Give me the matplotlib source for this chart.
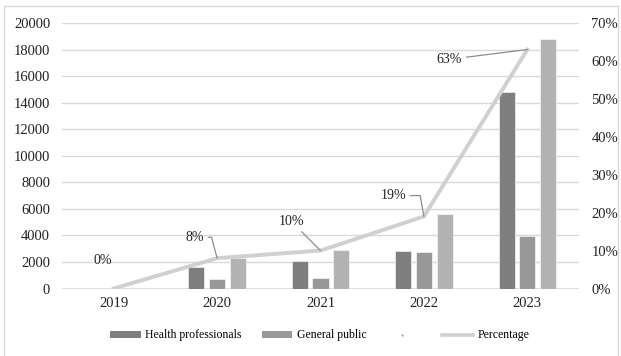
import numpy as np
import matplotlib.pyplot as plt
from matplotlib.patches import Patch, Rectangle
from matplotlib.lines import Line2D

plt.rcParams['font.family'] = ['Liberation Serif', 'DejaVu Serif']

years = ['2019', '2020', '2021', '2022', '2023']
health_prof = [0, 1600, 2080, 2830, 14780]
general_public = [0, 750, 770, 2730, 3960]
total = [0, 2260, 2880, 5620, 18760]
percentage = [0.0, 0.08, 0.10, 0.19, 0.63]
pct_labels = ['0%', '8%', '10%', '19%', '63%']

c_hp = '#7f7f7f'
c_gp = '#999999'
c_tot = '#b3b3b3'
c_line = '#d0d0d0'
c_grid = '#d9d9d9'

fig = plt.figure(figsize=(6.21, 3.56), dpi=100)
ax = fig.add_axes([62 / 621, 67.5 / 356, 517 / 621, 265.5 / 356])
ax2 = ax.twinx()

x = np.arange(len(years))
w = 0.155
step = 0.2
ax.bar(x - step, health_prof, w, color=c_hp, edgecolor='white', linewidth=0.4, zorder=2)
ax.bar(x, general_public, w, color=c_gp, edgecolor='white', linewidth=0.4, zorder=2)
ax.bar(x + step, total, w, color=c_tot, edgecolor='white', linewidth=0.4, zorder=2)

ax.set_xlim(-0.5, len(years) - 0.5)
ax.set_ylim(0, 20000)
ax.set_yticks(np.arange(0, 20001, 2000))
ax.set_xticks(x)
ax.set_xticklabels(years)
ax.yaxis.grid(True, color=c_grid, linewidth=1, zorder=0)
ax.set_axisbelow(True)
ax.tick_params(axis='both', length=0, labelsize=10.5, colors='#222222')
ax.tick_params(axis='x', pad=6)
ax.tick_params(axis='y', pad=8.5)

ax2.plot(x, percentage, color=c_line, linewidth=2.8, zorder=3, solid_joinstyle='miter')
ax2.set_ylim(0, 0.7)
ax2.set_yticks(np.arange(0, 0.71, 0.1))
ax2.set_yticklabels([f'{int(round(v * 100))}%' for v in np.arange(0, 0.71, 0.1)])
ax2.tick_params(axis='y', length=0, labelsize=10.5, colors='#222222', pad=9)

for a in (ax, ax2):
    for s in ('top', 'left', 'right', 'bottom'):
        a.spines[s].set_visible(False)
ax.axhline(0, color=c_grid, linewidth=1.2, zorder=1)

# percentage labels with leader lines
offsets = [(-8, 20), (-16, 15), (-21, 21), (-22, 15), (-56, -7)]
conns = [None, 'angle,angleA=0,angleB=105,rad=0', 'arc3,rad=0',
         'angle,angleA=0,angleB=100,rad=0', 'arc3,rad=0']
for xi, p, lab, off, cs in zip(x, percentage, pct_labels, offsets, conns):
    kw = {}
    if cs is not None:
        kw['arrowprops'] = dict(arrowstyle='-', color='#8c8c8c', lw=0.9,
                                shrinkA=1, shrinkB=0, connectionstyle=cs)
    ax2.annotate(lab, xy=(xi, p), xytext=off, textcoords='offset points',
                 ha='center', va='center', fontsize=10, color='#222222', **kw)

handles = [Patch(facecolor=c_hp), Patch(facecolor=c_gp),
           Line2D([], [], marker='.', markersize=1.5, linestyle='none', color='#b0b0b0'),
           Line2D([], [], color=c_line, linewidth=2.6)]
labels = ['Health professionals', 'General public', '', 'Percentage']
fig.legend(handles, labels, loc='center', bbox_to_anchor=(0.515, 0.058), ncol=4,
           frameon=False, fontsize=8.5, handlelength=2.6, handleheight=0.5,
           handletextpad=0.4, columnspacing=1.7)

fig.patches.append(Rectangle((4 / 621, -0.1), 614 / 621, 1.1 - 6 / 356,
                             transform=fig.transFigure, fill=False,
                             edgecolor='#d9d9d9', linewidth=1))

fig.savefig('out.png', dpi=100)
